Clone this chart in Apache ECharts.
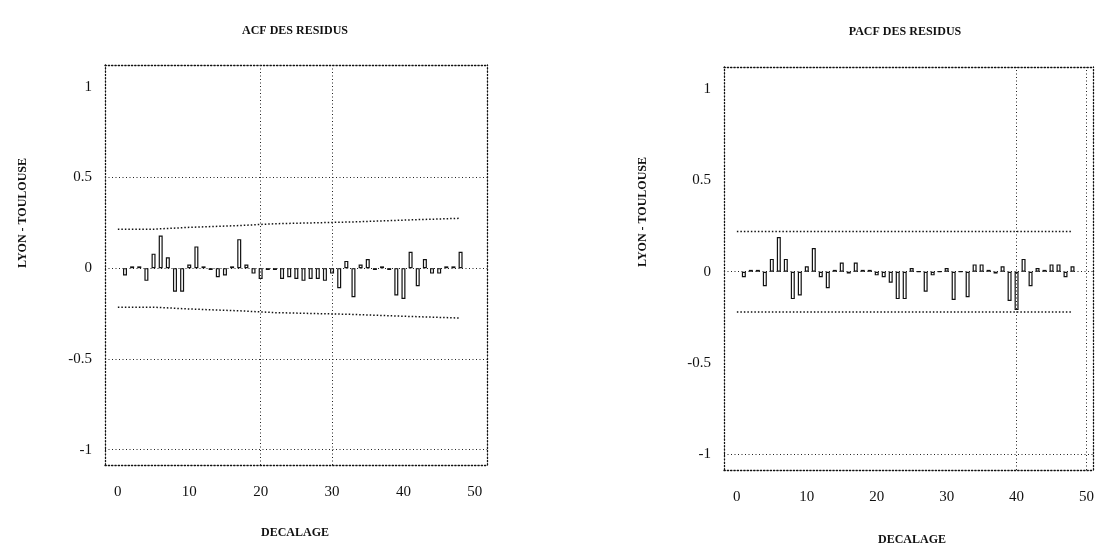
<!DOCTYPE html>
<html>
<head>
<meta charset="utf-8">
<script src="https://cdn.jsdelivr.net/npm/echarts@6/dist/echarts.min.js"></script>
<style>
  html, body { margin: 0; padding: 0; background: #fff; }
  #chart { width: 1097px; height: 549px; }
</style>
</head>
<body>
<div id="chart"></div>
<script>
// Residual autocorrelations, lags 1..48
const lags = Array.from({ length: 48 }, (_, i) => i + 1);

const acfValues = [
  -0.04, 0.01, 0.01, -0.07, 0.08, 0.18, 0.06, -0.13, -0.13, 0.02,
  0.12, 0.01, -0.01, -0.05, -0.04, 0.01, 0.16, 0.02, -0.03, -0.06,
  -0.01, -0.01, -0.06, -0.05, -0.06, -0.07, -0.06, -0.06, -0.07, -0.03,
  -0.11, 0.04, -0.16, 0.02, 0.05, -0.01, 0.01, -0.01, -0.15, -0.17,
  0.09, -0.10, 0.05, -0.03, -0.03, 0.01, 0.01, 0.09
];

const pacfValues = [
  -0.03, 0.01, 0.01, -0.08, 0.07, 0.19, 0.07, -0.15, -0.13, 0.03,
  0.13, -0.03, -0.09, 0.01, 0.05, -0.01, 0.05, 0.01, 0.01, -0.02,
  -0.03, -0.06, -0.15, -0.15, 0.02, 0.0, -0.11, -0.02, 0.0, 0.02,
  -0.155, 0.0, -0.14, 0.04, 0.04, 0.01, -0.01, 0.03, -0.16, -0.21,
  0.07, -0.08, 0.02, 0.01, 0.04, 0.04, -0.03, 0.03
];

// Confidence band breakpoints: [lag, half-width]
const acfBandSteps = [[0, 0.215], [5, 0.225], [10, 0.235], [17, 0.245], [22, 0.255], [33, 0.265], [40, 0.275], [48, 0.275]];
const pacfBandSteps = [[0, 0.22], [48, 0.22]];

const xTicks = [0, 10, 20, 30, 40, 50];
const yTicks = [-1, -0.5, 0, 0.5, 1];

const titles = ['ACF DES RESIDUS', 'PACF DES RESIDUS'];
const yName = 'LYON - TOULOUSE';
const xName = 'DECALAGE';

const ink = '#111';
const dotted = { color: ink, width: 1.3, type: [1.3, 2] };
const gridDot = { color: '#222', width: 1, type: [1, 2.5] };
const tickFont = { fontFamily: '"Liberation Serif", "DejaVu Serif", serif', fontSize: 15, color: ink };
const textFont = '"Liberation Serif", "DejaVu Serif", serif';

const grids = [
  { left: 105, top: 65, width: 382, height: 400 },
  { left: 724, top: 67, width: 373, height: 403 }
];
const xRanges = [[-1.8, 51.7], [-1.84, 51.0]];

function xAxes(gi) {
  const [lo, hi] = xRanges[gi];
  return [
    {
      gridIndex: gi, type: 'value', min: lo, max: hi, position: 'bottom',
      axisLine: { onZero: false, lineStyle: dotted },
      axisTick: { show: false },
      splitLine: { show: false },
      axisLabel: Object.assign({ customValues: xTicks, margin: 20 }, tickFont)
    },
    {
      gridIndex: gi, type: 'value', min: lo, max: hi, position: 'top',
      axisLine: { onZero: false, lineStyle: dotted },
      axisTick: { show: false }, axisLabel: { show: false }, splitLine: { show: false }
    }
  ];
}
function yAxes(gi) {
  return [
    {
      gridIndex: gi, type: 'value', min: -1.085, max: 1.12, position: 'left',
      axisLine: { onZero: false, lineStyle: dotted },
      axisTick: { show: false },
      splitLine: { show: false },
      axisLabel: Object.assign({ customValues: yTicks, margin: 13,
        formatter: v => (v === 0 ? '0' : String(v)) }, tickFont)
    },
    {
      gridIndex: gi, type: 'value', min: -1.085, max: 1.12, position: 'right',
      axisLine: { onZero: false, lineStyle: dotted },
      axisTick: { show: false }, axisLabel: { show: false }, splitLine: { show: false }
    }
  ];
}

function barSeries(gi, values, gridLines) {
  return {
    type: 'bar', xAxisIndex: gi * 2, yAxisIndex: gi * 2,
    barWidth: 4,
    data: lags.map((l, i) => [l, values[i]]),
    itemStyle: { color: '#fff', borderColor: ink, borderWidth: 1.2 },
    silent: true,
    markLine: {
      symbol: 'none', silent: true, label: { show: false },
      lineStyle: gridDot, animation: false,
      data: gridLines
    },
    z: 3
  };
}
function bandSeries(gi, steps, sign) {
  return {
    type: 'line', xAxisIndex: gi * 2, yAxisIndex: gi * 2,
    step: 'end', symbol: 'none', silent: true,
    data: steps.map(s => [s[0], sign * s[1]]),
    lineStyle: { color: ink, width: 1.5, type: [1.5, 2] },
    z: 2
  };
}

const chart = echarts.init(document.getElementById('chart'), null, { renderer: 'canvas' });

const graphics = [];
[[295, 31, 23, 213, 295, 533, 0], [905, 32, 643, 212, 912, 540, 1]].forEach(p => {
  graphics.push({ type: 'text', x: p[0], y: p[1], style: { text: titles[p[6]], font: 'bold 12px ' + textFont, fill: ink, textAlign: 'center', textVerticalAlign: 'middle' } });
  graphics.push({ type: 'text', x: p[2], y: p[3], rotation: Math.PI / 2, style: { text: yName, font: 'bold 12px ' + textFont, fill: ink, textAlign: 'center', textVerticalAlign: 'middle' } });
  graphics.push({ type: 'text', x: p[4], y: p[5], style: { text: xName, font: 'bold 12px ' + textFont, fill: ink, textAlign: 'center', textVerticalAlign: 'middle' } });
});

chart.setOption({
  animation: false,
  backgroundColor: '#fff',
  grid: grids,
  xAxis: xAxes(0).concat(xAxes(1)),
  yAxis: yAxes(0).concat(yAxes(1)),
  series: [
    barSeries(0, acfValues, [{ yAxis: 0.5 }, { yAxis: 0 }, { yAxis: -0.5 }, { yAxis: -1 }, { xAxis: 20 }, { xAxis: 30 }]),
    bandSeries(0, acfBandSteps, 1),
    bandSeries(0, acfBandSteps, -1),
    barSeries(1, pacfValues, [{ yAxis: 0 }, { yAxis: -1 }, { xAxis: 40 }, { xAxis: 50 }]),
    bandSeries(1, pacfBandSteps, 1),
    bandSeries(1, pacfBandSteps, -1)
  ],
  graphic: graphics
});
</script>
</body>
</html>
